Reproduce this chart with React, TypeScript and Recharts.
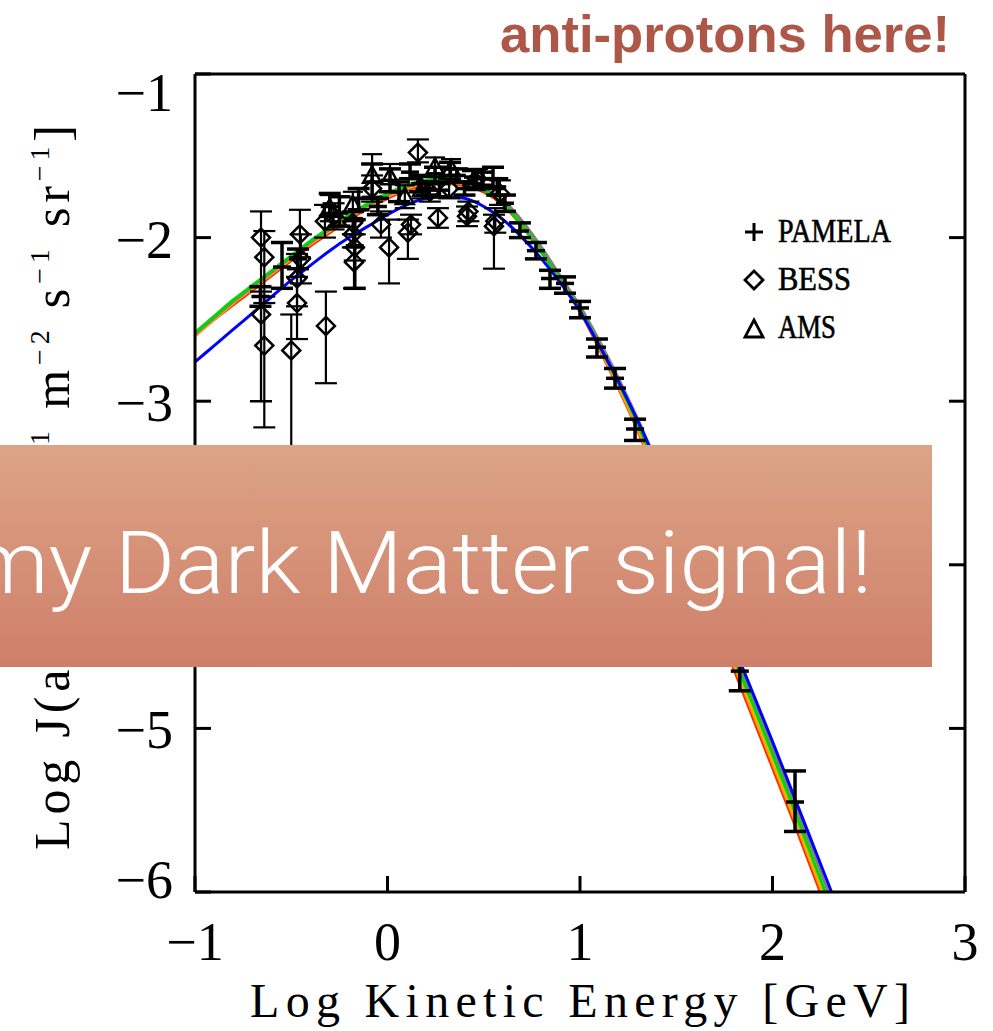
import React from 'react';
import { ComposedChart, Line, Scatter, XAxis, YAxis, ErrorBar } from 'recharts';

const W = 993;
const H = 1031;

const xTicks = [-1, 0, 1, 2, 3];
const yTicks = [-6, -5, -4, -3, -2, -1];
const topTicks = [0, 1, 2];
const rightTicks = [-5, -4, -3, -2];

const curveX = [-1.0, -0.9, -0.8, -0.7, -0.6, -0.5, -0.4, -0.3, -0.2, -0.1, 0.0, 0.1, 0.2, 0.3, 0.4, 0.5, 0.6, 0.7, 0.8, 0.9, 1.0, 1.1, 1.2, 1.3, 1.4, 1.5, 1.6, 1.7, 1.8, 1.9, 2.0, 2.1, 2.2, 2.3, 2.4];
const greenY = [-2.58, -2.48, -2.38, -2.29, -2.2, -2.11, -2.02, -1.94, -1.86, -1.79, -1.73, -1.68, -1.65, -1.64, -1.66, -1.71, -1.79, -1.93, -2.09, -2.27, -2.44, -2.66, -2.89, -3.14, -3.42, -3.7, -3.99, -4.28, -4.57, -4.86, -5.16, -5.46, -5.77, -6.08, -6.39];
const orangeY = [-2.6, -2.5, -2.4, -2.31, -2.22, -2.13, -2.04, -1.96, -1.88, -1.81, -1.75, -1.7, -1.67, -1.66, -1.67, -1.71, -1.79, -1.92, -2.08, -2.26, -2.44, -2.67, -2.91, -3.17, -3.45, -3.74, -4.03, -4.32, -4.61, -4.91, -5.21, -5.51, -5.82, -6.13, -6.44];
const redY = [-2.6, -2.5, -2.41, -2.32, -2.23, -2.14, -2.05, -1.97, -1.89, -1.82, -1.76, -1.71, -1.68, -1.67, -1.68, -1.72, -1.8, -1.93, -2.09, -2.27, -2.45, -2.68, -2.92, -3.18, -3.47, -3.76, -4.05, -4.35, -4.64, -4.94, -5.24, -5.54, -5.85, -6.16, -6.47];
const greyY = [-2.59, -2.49, -2.39, -2.3, -2.21, -2.12, -2.03, -1.95, -1.87, -1.8, -1.74, -1.69, -1.66, -1.65, -1.66, -1.7, -1.77, -1.9, -2.06, -2.24, -2.42, -2.63, -2.86, -3.11, -3.38, -3.66, -3.95, -4.24, -4.53, -4.82, -5.12, -5.42, -5.72, -6.03, -6.34];
const blueY = [-2.76, -2.66, -2.56, -2.46, -2.36, -2.26, -2.17, -2.08, -2.0, -1.93, -1.86, -1.8, -1.76, -1.75, -1.76, -1.81, -1.89, -2.0, -2.13, -2.28, -2.45, -2.66, -2.88, -3.12, -3.38, -3.65, -3.93, -4.21, -4.5, -4.79, -5.08, -5.38, -5.68, -5.98, -6.29];

const pamelaX = [-0.66, -0.548, -0.465, -0.3, -0.25, -0.17, -0.15, -0.05, -0.08, 0.013, 0.06, 0.117, 0.169, 0.205, 0.247, 0.27, 0.325, 0.36, 0.4, 0.444, 0.496, 0.548, 0.57, 0.61, 0.688, 0.771, 0.844, 0.922, 1.0, 1.088, 1.182, 1.286, 1.4, 1.52, 1.65, 1.83, 2.117];
const pamelaY = [-2.36, -2.18, -2.13, -1.81, -1.85, -2.05, -1.76, -1.81, -1.66, -1.65, -1.72, -1.6, -1.67, -1.7, -1.61, -1.71, -1.58, -1.62, -1.7, -1.63, -1.64, -1.64, -1.69, -1.79, -1.96, -2.08, -2.25, -2.28, -2.43, -2.67, -2.86, -3.17, -3.5, -3.8, -4.15, -4.65, -5.45];
const pamelaLo = [-2.42, -2.31, -2.19, -1.87, -1.93, -2.31, -1.83, -1.86, -1.76, -1.72, -1.78, -1.64, -1.72, -1.74, -1.66, -1.75, -1.62, -1.66, -1.74, -1.67, -1.68, -1.7, -1.74, -1.84, -2.0, -2.13, -2.31, -2.34, -2.49, -2.73, -2.92, -3.24, -3.58, -3.9, -4.27, -4.77, -5.63];
const pamelaHi = [-2.3, -2.03, -2.07, -1.73, -1.75, -1.89, -1.7, -1.76, -1.55, -1.58, -1.66, -1.55, -1.62, -1.66, -1.57, -1.67, -1.54, -1.58, -1.66, -1.59, -1.6, -1.57, -1.64, -1.74, -1.91, -2.03, -2.2, -2.24, -2.39, -2.62, -2.8, -3.11, -3.42, -3.71, -4.05, -4.54, -5.26];

const bessX = [-0.657, -0.64, -0.657, -0.64, -0.455, -0.45, -0.47, -0.47, -0.5, -0.32, -0.325, -0.28, -0.18, -0.17, -0.174, -0.18, 0.008, -0.034, 0.106, 0.122, 0.158, 0.262, 0.413, 0.42, 0.553, 0.56, 0.584, 0.465, 0.22, 0.32, -0.08];
const bessY = [-2.0, -2.12, -2.47, -2.66, -1.98, -2.13, -2.25, -2.4, -2.69, -2.54, -1.9, -1.87, -1.98, -2.06, -2.15, -1.91, -2.06, -1.92, -1.97, -1.92, -1.48, -1.88, -1.87, -1.84, -1.93, -1.9, -1.73, -1.64, -1.72, -1.7, -1.7];
const bessLo = [-3.0, -2.4, -3.0, -3.16, -2.12, -2.28, -2.42, -2.62, -3.3, -2.89, -2.0, -1.95, -2.06, -2.14, -2.31, -1.98, -2.28, -2.0, -2.13, -1.98, -1.54, -1.94, -1.93, -1.9, -2.19, -1.97, -1.8, -1.7, -1.78, -1.76, -1.78];
const bessHi = [-1.84, -1.96, -2.33, -2.36, -1.83, -1.98, -2.1, -2.24, -2.47, -2.33, -1.8, -1.79, -1.9, -1.98, -2.06, -1.84, -1.89, -1.84, -1.89, -1.86, -1.4, -1.82, -1.81, -1.78, -1.86, -1.82, -1.65, -1.58, -1.66, -1.64, -1.62];

const amsX = [-0.3, -0.18, -0.08, 0.013, 0.09, 0.18, 0.247, 0.33, 0.46];
const amsY = [-1.82, -1.8, -1.62, -1.63, -1.75, -1.7, -1.57, -1.58, -1.65];
const amsLo = [-1.9, -1.88, -1.75, -1.72, -1.82, -1.76, -1.63, -1.64, -1.71];
const amsHi = [-1.74, -1.72, -1.49, -1.55, -1.68, -1.63, -1.51, -1.52, -1.59];

const legendNames = ['PAMELA', 'BESS', 'AMS'];

const mkCurve = (ys: number[]) => curveX.map((x, i) => ({ x, y: ys[i] }));
const mkPts = (xs: number[], ys: number[], lo: number[], hi: number[]) =>
  xs.map((x, i) => ({ x, y: ys[i], err: [ys[i] - lo[i], hi[i] - ys[i]] }));

const greenData = mkCurve(greenY);
const orangeData = mkCurve(orangeY);
const redData = mkCurve(redY);
const greyData = mkCurve(greyY);
const blueData = mkCurve(blueY);
const pamelaData = mkPts(pamelaX, pamelaY, pamelaLo, pamelaHi);
const bessData = mkPts(bessX, bessY, bessLo, bessHi);
const amsData = mkPts(amsX, amsY, amsLo, amsHi);

const SERIF = "'Liberation Serif', 'DejaVu Serif', serif";
const fmt = (v: number) => (v < 0 ? '\u2212' + Math.abs(v) : String(v));

// custom ticks: with tickSize=0 and tickMargin=0 the given (x, y) is the axis line position
const BottomTick = (props: any) => {
  const { x, y, payload } = props;
  return (
    <g>
      <line x1={x} x2={x} y1={y} y2={y - 16} stroke="#000" strokeWidth={3} />
      <text x={x} y={y + 68} textAnchor="middle" fontFamily={SERIF} fontSize={54} fill="#000">
        {fmt(payload.value)}
      </text>
    </g>
  );
};
const TopTick = (props: any) => {
  const { x, y } = props;
  return <line x1={x} x2={x} y1={y} y2={y + 16} stroke="#000" strokeWidth={3} />;
};
const LeftTick = (props: any) => {
  const { x, y, payload } = props;
  const v = payload.value;
  const dy = v === -1 ? 37 : v === -6 ? 6 : 20;
  return (
    <g>
      <line x1={x} x2={x + 16} y1={y} y2={y} stroke="#000" strokeWidth={3} />
      <text x={x - 22} y={y + dy} textAnchor="end" fontFamily={SERIF} fontSize={54} fill="#000">
        {fmt(v)}
      </text>
    </g>
  );
};
const RightTick = (props: any) => {
  const { x, y } = props;
  return <line x1={x} x2={x - 16} y1={y} y2={y} stroke="#000" strokeWidth={3} />;
};

const PamelaShape = (props: any) => {
  const { cx, cy } = props;
  return <line x1={cx - 9} x2={cx + 9} y1={cy} y2={cy} stroke="#000" strokeWidth={3.5} />;
};
const DiamondShape = (props: any) => {
  const { cx, cy } = props;
  const s = 9;
  return (
    <polygon
      points={`${cx},${cy - s} ${cx + s},${cy} ${cx},${cy + s} ${cx - s},${cy}`}
      fill="none"
      stroke="#000"
      strokeWidth={2.5}
    />
  );
};
const TriangleShape = (props: any) => {
  const { cx, cy } = props;
  const s = 9;
  return (
    <polygon
      points={`${cx},${cy - s} ${cx + s},${cy + s * 0.8} ${cx - s},${cy + s * 0.8}`}
      fill="none"
      stroke="#000"
      strokeWidth={2.5}
    />
  );
};

const axisLine = { stroke: '#000', strokeWidth: 3 };

export default function App() {
  return (
    <div style={{ position: 'absolute', left: 0, top: 0, width: W, height: H, overflow: 'hidden', background: '#fff' }}>
      <ComposedChart width={W} height={H} margin={{ top: 74, right: 28, bottom: 139, left: 195 }}>
        <XAxis
          xAxisId="b"
          dataKey="x"
          type="number"
          domain={[-1, 3]}
          allowDataOverflow
          ticks={xTicks}
          interval={0}
          mirror
          height={30}
          tickSize={0}
          tickMargin={0}
          tickLine={false}
          axisLine={axisLine}
          tick={BottomTick}
        />
        <XAxis
          xAxisId="t"
          orientation="top"
          type="number"
          domain={[-1, 3]}
          allowDataOverflow
          ticks={topTicks}
          interval={0}
          mirror
          height={30}
          tickSize={0}
          tickMargin={0}
          tickLine={false}
          axisLine={axisLine}
          tick={TopTick}
        />
        <YAxis
          yAxisId="l"
          dataKey="y"
          type="number"
          domain={[-6, -1]}
          allowDataOverflow
          ticks={yTicks}
          interval={0}
          mirror
          width={30}
          tickSize={0}
          tickMargin={0}
          tickLine={false}
          axisLine={axisLine}
          tick={LeftTick}
        />
        <YAxis
          yAxisId="r"
          orientation="right"
          type="number"
          domain={[-6, -1]}
          allowDataOverflow
          ticks={rightTicks}
          interval={0}
          mirror
          width={30}
          tickSize={0}
          tickMargin={0}
          tickLine={false}
          axisLine={axisLine}
          tick={RightTick}
        />
        <Line xAxisId="b" yAxisId="l" data={redData} dataKey="y" type="monotone" stroke="#ff2a00" strokeWidth={3} dot={false} isAnimationActive={false} />
        <Line xAxisId="b" yAxisId="l" data={orangeData} dataKey="y" type="monotone" stroke="#ffa500" strokeWidth={3} dot={false} isAnimationActive={false} />
        <Line xAxisId="b" yAxisId="l" data={greyData} dataKey="y" type="monotone" stroke="#808080" strokeWidth={3} dot={false} isAnimationActive={false} />
        <Line xAxisId="b" yAxisId="l" data={greenData} dataKey="y" type="monotone" stroke="#00d800" strokeWidth={3} dot={false} isAnimationActive={false} />
        <Line xAxisId="b" yAxisId="l" data={blueData} dataKey="y" type="monotone" stroke="#0000ff" strokeWidth={3} dot={false} isAnimationActive={false} />
        <Scatter xAxisId="b" yAxisId="l" data={bessData} dataKey="y" shape={DiamondShape} isAnimationActive={false}>
          <ErrorBar dataKey="err" direction="y" width={11} stroke="#000" strokeWidth={2.2} isAnimationActive={false} />
        </Scatter>
        <Scatter xAxisId="b" yAxisId="l" data={amsData} dataKey="y" shape={TriangleShape} isAnimationActive={false}>
          <ErrorBar dataKey="err" direction="y" width={10} stroke="#000" strokeWidth={2.2} isAnimationActive={false} />
        </Scatter>
        <Scatter xAxisId="b" yAxisId="l" data={pamelaData} dataKey="y" shape={PamelaShape} isAnimationActive={false}>
          <ErrorBar dataKey="err" direction="y" width={11} stroke="#000" strokeWidth={3.5} isAnimationActive={false} />
        </Scatter>
      </ComposedChart>

      <svg width={W} height={H} style={{ position: 'absolute', left: 0, top: 0, pointerEvents: 'none' }}>
        <defs>
          <linearGradient id="bannerGrad" x1="0" y1="0" x2="0" y2="1">
            <stop offset="0%" stopColor="#dca486" />
            <stop offset="100%" stopColor="#cf7f69" />
          </linearGradient>
        </defs>

        <text x={500} y={52} fontFamily="'Liberation Sans', Arial, sans-serif" fontWeight="bold" fontSize={52} fill="#ad5748" textLength={450} lengthAdjust="spacingAndGlyphs">
          anti-protons here!
        </text>

        <line x1={745} x2={763} y1={232} y2={232} stroke="#000" strokeWidth={3} />
        <line x1={754} x2={754} y1={223} y2={241} stroke="#000" strokeWidth={3} />
        <polygon points="754,271 763,280 754,289 745,280" fill="none" stroke="#000" strokeWidth={2.8} />
        <polygon points="754,320 763,337 745,337" fill="none" stroke="#000" strokeWidth={2.8} />
        <text x={778} y={242} fontFamily={SERIF} fontSize={33} fill="#000" stroke="#000" strokeWidth={0.6} textLength={113} lengthAdjust="spacingAndGlyphs">{legendNames[0]}</text>
        <text x={778} y={290} fontFamily={SERIF} fontSize={33} fill="#000" stroke="#000" strokeWidth={0.6} textLength={73} lengthAdjust="spacingAndGlyphs">{legendNames[1]}</text>
        <text x={778} y={338} fontFamily={SERIF} fontSize={33} fill="#000" stroke="#000" strokeWidth={0.6} textLength={58} lengthAdjust="spacingAndGlyphs">{legendNames[2]}</text>

        <text x={250} y={1017} fontFamily={SERIF} fontSize={48} fill="#000" textLength={660} lengthAdjust="spacing">
          Log Kinetic Energy [GeV]
        </text>

        <text transform="translate(69, 850) rotate(-90)" x={0} y={0} fontFamily={SERIF} fontSize={50} fill="#000" textLength={725} lengthAdjust="spacing">
          Log J(ap) [GeV<tspan dy={-20} fontSize={28}>−1</tspan>
          <tspan dy={20}> m</tspan>
          <tspan dy={-20} fontSize={28}>−2</tspan>
          <tspan dy={20}> s</tspan>
          <tspan dy={-20} fontSize={28}>−1</tspan>
          <tspan dy={20}> sr</tspan>
          <tspan dy={-20} fontSize={28}>−1</tspan>
          <tspan dy={20}>]</tspan>
        </text>

        <rect x={0} y={445} width={932} height={222} fill="url(#bannerGrad)" />
        <text x={872} y={593} textAnchor="end" fontFamily="Roboto, Inter, 'Open Sans', sans-serif" fontWeight={300} fontSize={88} fill="#ffffff" textLength={905} lengthAdjust="spacingAndGlyphs">
          my Dark Matter signal!
        </text>
      </svg>
    </div>
  );
}
